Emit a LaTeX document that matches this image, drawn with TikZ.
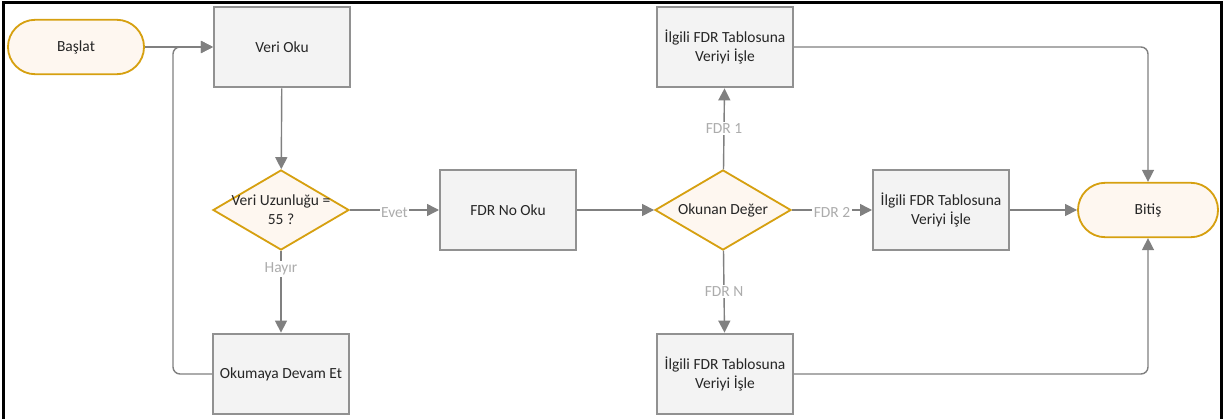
\documentclass[tikz,border=0pt]{standalone}
\usepackage{fontspec}
\setmainfont{Carlito}
\usetikzlibrary{shapes,arrows.meta,positioning}
\definecolor{gold}{RGB}{214,160,16}
\definecolor{cream}{RGB}{254,247,240}
\definecolor{boxfill}{RGB}{243,243,243}
\definecolor{boxedge}{RGB}{145,145,145}
\definecolor{linegray}{RGB}{128,128,128}
\definecolor{taggray}{RGB}{172,172,172}
\tikzset{
    terminal/.style={
        rectangle,
        rounded corners=0.68cm,
        draw=gold,
        fill=cream,
        line width=1.3pt,
        minimum width=3.4cm,
        minimum height=1.36cm
    },
    process/.style={
        rectangle,
        draw=boxedge,
        fill=boxfill,
        line width=1.4pt,
        align=center,
        minimum width=3.4cm,
        minimum height=2.02cm
    },
    decision/.style={
        diamond,
        draw=gold,
        fill=cream,
        line width=1.3pt,
        inner sep=0pt,
        minimum width=3.4cm,
        minimum height=2cm
    }
}

\begin{document}
\begin{tikzpicture}[
        x=0.025cm, y=-0.025cm,
        every node/.style={
            font=\fontsize{11}{13.5}\selectfont,
            text=black!85
        },
        flow/.style={draw=linegray, line width=1pt, -{Triangle[length=3mm,width=3mm]}},
        tag/.style={fill=white, text=taggray, inner sep=1pt, font=\fontsize{11}{12}\selectfont},
    ]
    \useasboundingbox (0,0) rectangle (1228,419);
    % outer frame
    \draw[line width=2.1pt] (3.5,430) -- (3.5,2.5) -- (1221.5,2.5) -- (1221.5,430);

    % left column
    \node[terminal] (start) at (76,47) {Başlat};
    \node[process] (read) at (282,47) {Veri Oku};
    \node[decision, label={[align=center]center:Veri Uzunluğu =\\55 ?}] (check) at (281,210) {};
    \node[process] (cont) at (281,374) {Okumaya Devam Et};

    % middle
    \node[process] (fdrno) at (508,210) {FDR No Oku};
    \node[decision, label=center:Okunan Değer] (value) at (723,210) {};
    \node[process] (tab1) at (725,47) {İlgili FDR Tablosuna\\Veriyi İşle};
    \node[process] (tab2) at (941,210) {İlgili FDR Tablosuna\\Veriyi İşle};
    \node[process] (tabn) at (725,374) {İlgili FDR Tablosuna\\Veriyi İşle};

    % end
    \node[terminal, minimum width=3.5cm] (end) at (1148,210) {Bitiş};

    \coordinate (join) at (173,47);

    \draw[flow] (start) -- (read);
    \draw[flow] (read) -- (check);
    \draw[flow] (check) -- node[tag, yshift=-2pt] {Evet} (fdrno);
    \draw[flow] (check) -- node[tag, pos=0.22] {Hayır} (cont);
    \draw[flow, rounded corners=5pt] (cont.west) -| (join) -- (read.west);
    \draw[flow] (fdrno) -- (value);
    \draw[flow] (value) -- node[tag] {FDR 1} (tab1);
    \draw[flow] (value) -- node[tag, yshift=-2pt] {FDR 2} (tab2);
    \draw[flow] (value) -- node[tag] {FDR N} (tabn);
    \draw[flow, rounded corners=5pt] (tab1.east) -| (end.north);
    \draw[flow] (tab2) -- (end);
    \draw[flow, rounded corners=5pt] (tabn.east) -| (end.south);
\end{tikzpicture}
\end{document}
